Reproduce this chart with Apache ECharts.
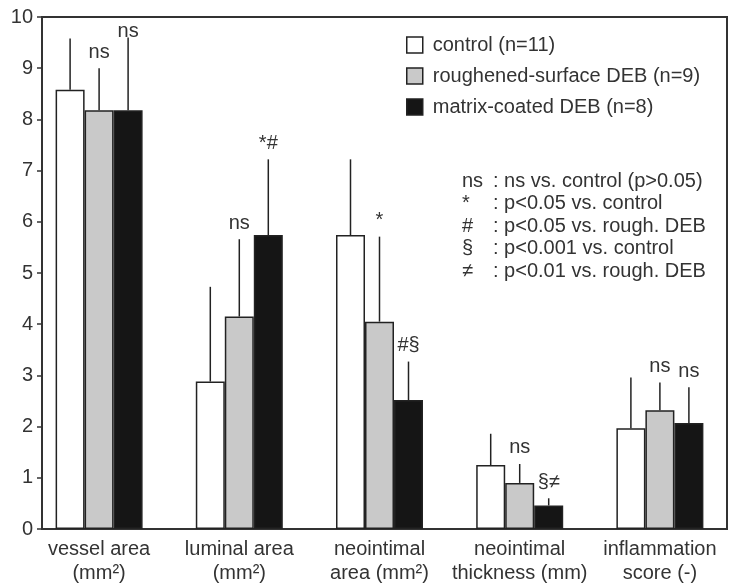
<!DOCTYPE html>
<html>
<head>
<meta charset="utf-8">
<script src="https://cdn.jsdelivr.net/npm/echarts@6/dist/echarts.min.js"></script>
<style>
  html, body { margin: 0; padding: 0; background: #fff; }
  #chart { width: 730px; height: 585px; }
</style>
</head>
<body>
<div id="chart"></div>
<script>
// Outcome categories (x axis)
var categories = [
  'vessel area\n(mm²)',
  'luminal area\n(mm²)',
  'neointimal\narea (mm²)',
  'neointimal\nthickness (mm)',
  'inflammation\nscore (-)'
];

var seriesNames = ['control (n=11)', 'roughened-surface DEB (n=9)', 'matrix-coated DEB (n=8)'];

// Group means
var controlMean = [8.58, 2.88, 5.74, 1.25, 1.97];
var roughMean   = [8.18, 4.15, 4.05, 0.90, 2.32];
var matrixMean  = [8.18, 5.74, 2.52, 0.46, 2.07];

// Standard deviations (upper whisker only)
var controlSD = [1.00, 1.85, 1.48, 0.61, 0.99];
var roughSD   = [0.82, 1.51, 1.66, 0.37, 0.54];
var matrixSD  = [1.42, 1.48, 0.75, 0.14, 0.70];

// Significance marks above each bar
var controlSig = ['', '', '', '', ''];
var roughSig   = ['ns', 'ns', '*', 'ns', 'ns'];
var matrixSig  = ['ns', '*#', '#§', '§≠', 'ns'];

// Key to the significance marks
var noteSymbols = ['ns', '*', '#', '§', '≠'];
var noteTexts = [
  ': ns vs. control (p>0.05)',
  ': p<0.05 vs. control',
  ': p<0.05 vs. rough. DEB',
  ': p<0.001 vs. control',
  ': p<0.01 vs. rough. DEB'
];

var yTicks = { min: 0, max: 10, interval: 1 };

var FONT = '"Liberation Sans", Arial, sans-serif';
var TEXT = '#333';
var EDGE = '#222';
var BAR_W = 29;
var PLOT_TOP = 17;
var fills = ['#ffffff', '#c9c9c9', '#151515'];

var means = [controlMean, roughMean, matrixMean];
var sds = [controlSD, roughSD, matrixSD];
var sigs = [controlSig, roughSig, matrixSig];

var chart = echarts.init(document.getElementById('chart'), null, { renderer: 'canvas' });

var series = [];
means.forEach(function (m, s) {
  series.push({
    name: seriesNames[s],
    type: 'bar',
    xAxisIndex: 1,
    yAxisIndex: 1,
    barWidth: BAR_W,
    barGap: '0%',
    data: m,
    itemStyle: { color: fills[s], borderColor: EDGE, borderWidth: 1.5 },
    emphasis: { disabled: true },
    animation: false,
    z: 2
  });
});

// Whiskers and significance marks, offset to each bar's slot in the group
means.forEach(function (m, s) {
  series.push({
    type: 'custom',
    xAxisIndex: 1,
    yAxisIndex: 1,
    data: m.map(function (v, i) { return [i, v, sds[s][i]]; }),
    renderItem: function (params, api) {
      var i = api.value(0), v = api.value(1), sd = api.value(2);
      var base = api.coord([i, v]);
      var top = api.coord([i, v + sd]);
      var x = base[0] + (s - 1) * BAR_W;
      var children = [{
        type: 'line',
        shape: { x1: x, y1: base[1], x2: x, y2: top[1] },
        style: { stroke: EDGE, lineWidth: 1.5 }
      }];
      var mark = sigs[s][params.dataIndex];
      if (mark) {
        // keep marks clear of the frame's top edge
        var ty = Math.max(top[1] - 6, PLOT_TOP + 24);
        children.push({
          type: 'text',
          style: {
            text: mark, x: x, y: ty,
            align: 'center', verticalAlign: 'bottom',
            font: '20px ' + FONT, fill: TEXT
          }
        });
      }
      return { type: 'group', children: children };
    },
    animation: false,
    silent: true,
    z: 3
  });
});

var graphics = [];
noteSymbols.forEach(function (sym, k) {
  graphics.push({
    type: 'text', left: 462, top: 171 + k * 22.5,
    style: { text: sym, font: '20px ' + FONT, fill: TEXT }
  });
  graphics.push({
    type: 'text', left: 493, top: 171 + k * 22.5,
    style: { text: noteTexts[k], font: '20px ' + FONT, fill: TEXT }
  });
});

chart.setOption({
  backgroundColor: '#fff',
  animation: false,
  textStyle: { fontFamily: FONT },
  grid: [
    { left: 42, top: PLOT_TOP, width: 685, height: 512, show: true, borderColor: '#333', borderWidth: 2, backgroundColor: 'transparent', z: 1 },
    { left: 29, top: PLOT_TOP, width: 710, height: 512 }
  ],
  legend: {
    data: seriesNames,
    orient: 'vertical',
    left: 401,
    top: 30,
    itemWidth: 16,
    itemHeight: 16,
    itemGap: 11,
    icon: 'rect',
    selectedMode: false,
    itemStyle: { borderColor: EDGE, borderWidth: 1.5 },
    textStyle: { fontSize: 20, color: TEXT, fontFamily: FONT, padding: [0, 0, 0, 5] }
  },
  xAxis: [
    { type: 'value', gridIndex: 0, min: 0, max: 1, axisLine: { show: true, onZero: false, lineStyle: { color: '#333', width: 2 } }, axisTick: { show: false }, axisLabel: { show: false }, splitLine: { show: false } },
    {
      type: 'category', gridIndex: 1, data: categories,
      axisLine: { show: false }, axisTick: { show: false }, splitLine: { show: false },
      axisLabel: { fontSize: 20, color: TEXT, fontFamily: FONT, lineHeight: 24, margin: 8, interval: 0 }
    }
  ],
  yAxis: [
    {
      type: 'value', gridIndex: 0, min: yTicks.min, max: yTicks.max, interval: yTicks.interval,
      axisLine: { show: true, lineStyle: { color: '#333', width: 2 } },
      axisTick: { show: true, inside: false, length: 5, lineStyle: { color: '#333', width: 1.5 } },
      axisLabel: { fontSize: 20, color: TEXT, fontFamily: FONT, margin: 9 },
      splitLine: { show: false }
    },
    { type: 'value', gridIndex: 1, min: yTicks.min, max: yTicks.max, interval: yTicks.interval, show: false }
  ],
  series: series,
  graphic: graphics
});
</script>
</body>
</html>
